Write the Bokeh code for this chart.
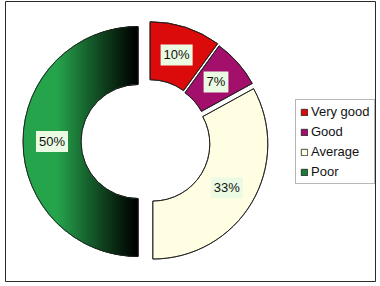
import numpy as np
from bokeh.plotting import figure
from bokeh.models import Range1d, ColumnDataSource
from bokeh.embed import file_html
from bokeh.resources import INLINE
from bokeh.core.properties import value

# ---- data ----
categories = ["Very good", "Good", "Average", "Poor"]
shares = [10, 7, 33, 50]
labels = ["10%", "7%", "33%", "50%"]
colors = ["#dc0b0b", "#a3106c", "#fffde2", "#1a7d37"]
explode = [5.0, 4.0, 5.0, 10.5]

# ---- geometry / style ----
CX, CY = 148.0, 145.0
R_OUT, R_IN = 115.0, 57.0
R_LAB = (R_OUT + R_IN) / 2
FONT = "Liberation Sans"

total = float(sum(shares))
cum = np.concatenate([[0.0], np.cumsum(shares)]) / total * 360.0
a0, a1 = cum[:-1], cum[1:]              # clockwise from 12 o'clock
start = np.radians(90.0 - a1)
end = np.radians(90.0 - a0)
mid = np.radians(90.0 - (a0 + a1) / 2.0)
d = np.array(explode)
cxs = CX + d * np.cos(mid)
cys = CY + d * np.sin(mid)
lx = cxs + R_LAB * np.cos(mid)
ly = cys + R_LAB * np.sin(mid)

src = ColumnDataSource(dict(cat=categories, x=cxs, y=cys, start=start, end=end,
                            color=colors, lx=lx, ly=ly, lab=labels))

p = figure(width=380, height=286, x_range=Range1d(5, 375), y_range=Range1d(5, 285),
           output_backend="svg", toolbar_location=None,
           x_axis_type=None, y_axis_type=None,
           min_border_left=5, min_border_right=5, min_border_top=1, min_border_bottom=5)
p.outline_line_color = "#2a2a2a"
p.outline_line_width = 1
p.background_fill_color = "white"
p.border_fill_color = "white"

p.annular_wedge(x="x", y="y", inner_radius=R_IN, outer_radius=R_OUT,
                start_angle="start", end_angle="end", direction="anticlock",
                fill_color="color", line_color="#1a1a1a", line_width=0.8,
                source=src, legend_field="cat")

# gradient fill for the "Poor" slice (green -> black, left to right)
i = 3
xs = np.arange(5, 375) + 0.5
ys = np.arange(5, 285) + 0.5
X, Y = np.meshgrid(xs, ys)
dx, dy = X - cxs[i], Y - cys[i]
rho = np.hypot(dx, dy)
ang = np.degrees(np.arctan2(dy, dx)) % 360
s_deg = np.degrees(start[i]) % 360
span = (np.degrees(end[i]) - np.degrees(start[i])) % 360
if span == 0:
    span = 360
inside = (rho >= R_IN) & (rho <= R_OUT) & (((ang - s_deg) % 360) <= span)
t = (X - (cxs[i] - R_OUT)) / R_OUT
f = np.clip((1 - t) / 0.7, 0, 1) ** 1.1
img = np.zeros(X.shape, dtype=np.uint32)
view = img.view(dtype=np.uint8).reshape(X.shape + (4,))
view[..., 0] = (38 * f).astype(np.uint8)
view[..., 1] = (164 * f).astype(np.uint8)
view[..., 2] = (76 * f).astype(np.uint8)
view[..., 3] = np.where(inside, 255, 0).astype(np.uint8)
p.image_rgba(image=[img], x=5, y=5, dw=370, dh=280)

# outlines on top
p.annular_wedge(x="x", y="y", inner_radius=R_IN, outer_radius=R_OUT,
                start_angle="start", end_angle="end", direction="anticlock",
                fill_alpha=0, line_color="#1a1a1a", line_width=0.8, source=src)

# percentage labels
p.text(x="lx", y="ly", text="lab", source=src, text_font=value(FONT),
       text_font_size="13px", text_color="#111111", text_align="center",
       text_baseline="middle", background_fill_color="#ebfbe3", padding=3)

lg = p.legend[0]
lg.location = (290, 97)
lg.margin = 0
lg.padding = 4
lg.spacing = 5
lg.glyph_width = 8
lg.glyph_height = 8
lg.label_standoff = 3
lg.label_text_font = FONT
lg.label_text_font_size = "13px"
lg.label_text_color = "#111111"
lg.border_line_color = "#707070"
lg.border_line_width = 1
lg.background_fill_alpha = 1

open("out.html", "w").write(file_html(p, INLINE))
